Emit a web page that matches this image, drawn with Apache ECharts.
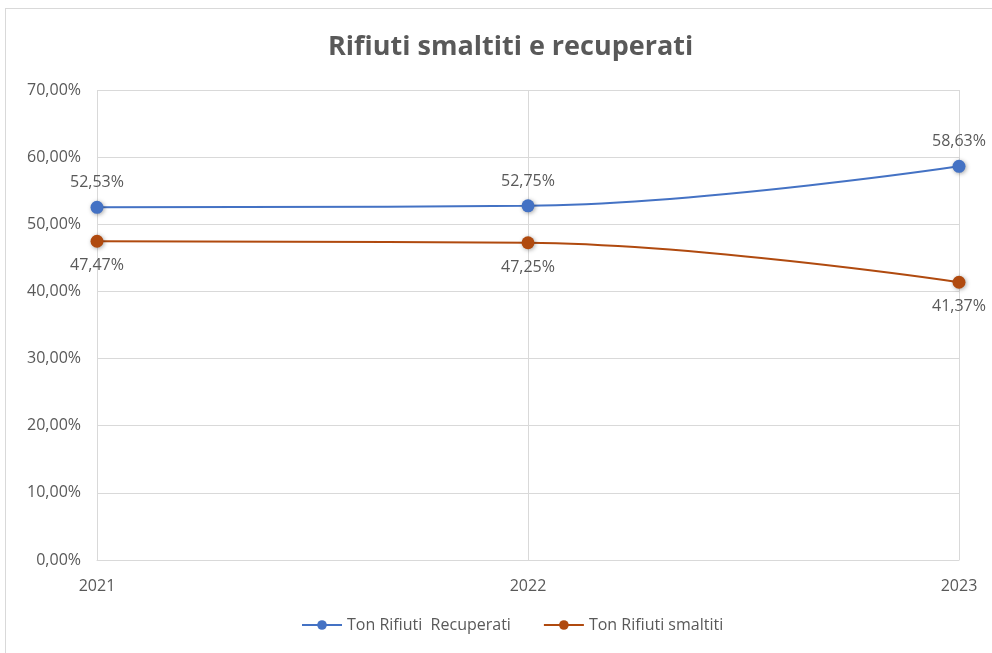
<!DOCTYPE html>
<html>
<head>
<meta charset="utf-8">
<script src="https://cdn.jsdelivr.net/npm/echarts@6/dist/echarts.min.js"></script>
<style>
  html, body { margin: 0; padding: 0; background: #fff; }
  #frame { position: absolute; left: 5px; top: 8px; width: 1000px; height: 660px; border: 1px solid #d9d9d9; }
  #main { position: absolute; left: 0; top: 0; width: 992px; height: 653px; }
</style>
</head>
<body>
<div id="frame"></div>
<div id="main"></div>
<script>
const years = ['2021', '2022', '2023'];
const recuperati = [52.53, 52.75, 58.63];
const smaltiti = [47.47, 47.25, 41.37];
const yTicks = { min: 0, max: 70, interval: 10 };

const fmt = v => v.toFixed(2).replace('.', ',') + '%';
const textColor = '#595959';
const font = 'Open Sans, Noto Sans, sans-serif';

const myChart = echarts.init(document.getElementById('main'));

function lineSeries(name, data, color, labelPos) {
  return {
    name: name,
    type: 'line',
    smooth: 0.4,
    data: data,
    symbol: 'circle',
    symbolSize: 13,
    lineStyle: { color: color, width: 2 },
    itemStyle: {
      color: color,
      shadowBlur: 4,
      shadowColor: 'rgba(0,0,0,0.35)',
      shadowOffsetX: 1,
      shadowOffsetY: 1
    },
    label: {
      show: true,
      position: labelPos,
      distance: 10,
      color: textColor,
      fontSize: 16,
      fontFamily: font,
      formatter: p => fmt(p.value)
    }
  };
}

const option = {
  animation: false,
  title: {
    text: 'Rifiuti smaltiti e recuperati',
    left: 323,
    top: 29,
    textStyle: { color: textColor, fontSize: 27, fontWeight: 'bold', fontFamily: font }
  },
  legend: {
    bottom: 15,
    left: 296,
    itemWidth: 40,
    itemHeight: 12,
    itemGap: 32,
    textStyle: { color: textColor, fontSize: 16, fontFamily: font },
    data: ['Ton Rifiuti  Recuperati', 'Ton Rifiuti smaltiti']
  },
  grid: { left: 97, right: 33, top: 90, bottom: 93 },
  xAxis: {
    type: 'category',
    data: years,
    boundaryGap: false,
    axisLine: { lineStyle: { color: '#d9d9d9' } },
    axisTick: { show: false },
    axisLabel: { color: textColor, fontSize: 16, fontFamily: font, margin: 18,
      alignMinLabel: 'center', alignMaxLabel: 'center' },
    splitLine: { show: true, lineStyle: { color: '#d9d9d9' } }
  },
  yAxis: {
    type: 'value',
    min: yTicks.min,
    max: yTicks.max,
    interval: yTicks.interval,
    axisLine: { show: false },
    axisTick: { show: false },
    axisLabel: { color: textColor, fontSize: 16, fontFamily: font, margin: 16,
      formatter: v => fmt(v) },
    splitLine: { lineStyle: { color: '#d9d9d9' } }
  },
  series: [
    lineSeries('Ton Rifiuti  Recuperati', recuperati, '#4472C4', 'top'),
    lineSeries('Ton Rifiuti smaltiti', smaltiti, '#B04A0F', 'bottom')
  ]
};

myChart.setOption(option);
</script>
</body>
</html>
